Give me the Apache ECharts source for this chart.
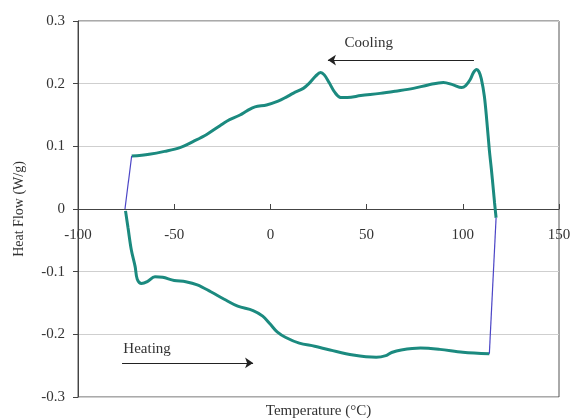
<!DOCTYPE html>
<html>
<head>
<meta charset="utf-8">
<script src="https://cdn.jsdelivr.net/npm/echarts@6/dist/echarts.min.js"></script>
<style>
html,body{margin:0;padding:0;background:#fff;}
#chart{width:571px;height:418px;}
</style>
</head>
<body>
<div id="chart"></div>
<script>
// Heating scan (temperature °C, heat flow W/g), left to right
var heatingX = [-75.3, -74.0, -72.3, -70.3, -69.2, -67.0, -64.0, -60.0, -56.0, -50.0, -44.0, -38.0, -31.0, -24.0, -17.0, -9.0, -4.0, 0.0, 3.5, 8.0, 15.0, 23.0, 31.0, 43.0, 55.0, 60.0, 63.0, 68.0, 78.0, 88.0, 100.0, 113.8];
var heatingY = [-0.003, -0.030, -0.065, -0.092, -0.112, -0.119, -0.116, -0.108, -0.109, -0.114, -0.116, -0.121, -0.132, -0.144, -0.155, -0.162, -0.171, -0.184, -0.196, -0.205, -0.214, -0.219, -0.225, -0.233, -0.2365, -0.234, -0.229, -0.225, -0.222, -0.224, -0.2286, -0.231];
// Cooling scan, right to left
var coolingX = [117.3, 116.5, 115.9, 114.8, 113.8, 112.5, 111.2, 109.6, 108.4, 107.2, 105.6, 103.7, 101.5, 99.4, 95.0, 89.9, 82.0, 74.3, 65.0, 57.0, 47.0, 40.0, 36.5, 33.5, 30.5, 28.0, 26.1, 23.5, 20.0, 17.1, 12.0, 8.5, 4.0, -2.0, -8.0, -12.0, -15.8, -22.7, -26.2, -33.1, -40.0, -47.0, -55.0, -63.0, -72.1];
var coolingY = [-0.014, 0.010, 0.030, 0.065, 0.094, 0.140, 0.180, 0.208, 0.219, 0.2228, 0.218, 0.2057, 0.197, 0.194, 0.198, 0.202, 0.198, 0.1925, 0.188, 0.1845, 0.181, 0.178, 0.178, 0.186, 0.202, 0.214, 0.218, 0.212, 0.200, 0.1925, 0.185, 0.179, 0.172, 0.166, 0.163, 0.157, 0.150, 0.140, 0.133, 0.119, 0.108, 0.098, 0.092, 0.0875, 0.0845];
// Instrument jumps joining the scans
var jumpRightX = [113.8, 117.3];
var jumpRightY = [-0.231, -0.014];
var jumpLeftX = [-72.1, -75.6];
var jumpLeftY = [0.0845, 0.0];
// Axis ticks
var xTicks = [-100, -50, 0, 50, 100, 150];
var yTicks = [-0.3, -0.2, -0.1, 0, 0.1, 0.2, 0.3];
// Annotations (data coordinates)
var coolingArrow = [[105.8, 0.2376], [29.9, 0.2376]];
var heatingArrow = [[-77.1, -0.2456], [-9.0, -0.2456]];
var annotationText = ['Cooling', 'Heating'];
var annotationPos = [[51.1, 0.265], [-64.1, -0.2238]];

function pairs(xs, ys) { return xs.map(function (x, i) { return [x, ys[i]]; }); }

var teal = '#1b8a7f';
var blue = '#4b45c6';
var font = 'Liberation Serif';

var chart = echarts.init(document.getElementById('chart'), null, {renderer: 'canvas'});
chart.setOption({
  animation: false,
  backgroundColor: '#fff',
  grid: {left: 78, right: 12, top: 21, bottom: 21, containLabel: false, outerBoundsMode: 'none',
    show: true, borderColor: '#555', borderWidth: 1, backgroundColor: 'transparent'},
  xAxis: {
    type: 'value', min: xTicks[0], max: xTicks[xTicks.length - 1], interval: 50,
    axisLine: {onZero: true, lineStyle: {color: '#444', width: 1}},
    axisTick: {show: true, inside: true, length: 5, lineStyle: {color: '#444'}},
    axisLabel: {color: '#333', fontFamily: font, fontSize: 15, margin: -169},
    splitLine: {show: false},
    name: 'Temperature (°C)', nameLocation: 'middle', nameGap: 7,
    nameTextStyle: {color: '#333', fontFamily: font, fontSize: 15, verticalAlign: 'top'}
  },
  yAxis: {
    type: 'value', min: yTicks[0], max: yTicks[yTicks.length - 1], interval: 0.1,
    axisLine: {show: true, onZero: false, lineStyle: {color: '#444', width: 1}},
    axisTick: {show: true, inside: false, length: 5, lineStyle: {color: '#444'}},
    axisLabel: {color: '#333', fontFamily: font, fontSize: 15, margin: 13,
      formatter: function (v) { return String(Math.round(v * 10) / 10); }},
    splitLine: {show: true, lineStyle: {color: '#cfcfcf', width: 1}},
    name: 'Heat Flow (W/g)', nameLocation: 'middle', nameGap: 52,
    nameTextStyle: {color: '#333', fontFamily: font, fontSize: 14}
  },
  series: [
    {type: 'line', data: pairs(heatingX, heatingY), smooth: 0.35, showSymbol: false,
      lineStyle: {color: teal, width: 3},
      markLine: {silent: true, symbol: ['none', 'arrow'], symbolSize: 8,
        lineStyle: {color: '#222', width: 1, type: 'solid'}, label: {show: false},
        data: [[{coord: heatingArrow[0]}, {coord: heatingArrow[1]}]]},
      markPoint: {silent: true, symbol: 'circle', symbolSize: 0,
        label: {show: true, position: 'inside', color: '#333', fontFamily: font, fontSize: 15, formatter: function (p) { return p.name; }},
        data: [{name: annotationText[1], coord: annotationPos[1]}]}
    },
    {type: 'line', data: pairs(coolingX, coolingY), smooth: 0.35, showSymbol: false,
      lineStyle: {color: teal, width: 3},
      markLine: {silent: true, symbol: ['none', 'arrow'], symbolSize: 8,
        lineStyle: {color: '#222', width: 1, type: 'solid'}, label: {show: false},
        data: [[{coord: coolingArrow[0]}, {coord: coolingArrow[1]}]]},
      markPoint: {silent: true, symbol: 'circle', symbolSize: 0,
        label: {show: true, position: 'inside', color: '#333', fontFamily: font, fontSize: 15, formatter: function (p) { return p.name; }},
        data: [{name: annotationText[0], coord: annotationPos[0]}]}
    },
    {type: 'line', data: pairs(jumpRightX, jumpRightY), showSymbol: false,
      lineStyle: {color: blue, width: 1.2}},
    {type: 'line', data: pairs(jumpLeftX, jumpLeftY), showSymbol: false,
      lineStyle: {color: blue, width: 1.2}}
  ]
});
</script>
</body>
</html>
